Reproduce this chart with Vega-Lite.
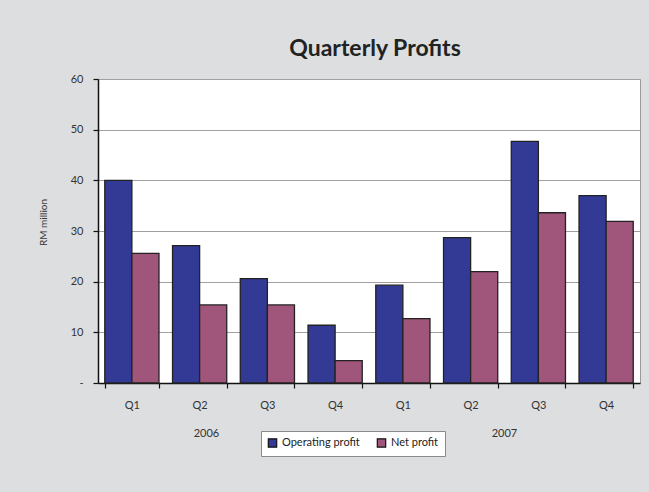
{
  "$schema": "https://vega.github.io/schema/vega-lite/v6.json",
  "autosize": {"type": "none"},
  "width": 542,
  "height": 304,
  "padding": {"left": 98, "top": 79, "right": 9, "bottom": 109},
  "background": "#dddee0",
  "title": {"text": "Quarterly Profits", "fontSize": 23, "fontWeight": "bold", "font": "Lato", "color": "#222222", "offset": 12, "anchor": "middle", "dx": 6},
  "config": {
    "view": {"stroke": "#9a9a9a", "strokeWidth": 1, "fill": "white"},
    "font": "Lato"
  },
  "data": {
    "values": [
      {"period": "2006 Q1", "year": "2006", "series": "Operating profit", "value": 40.0},
      {"period": "2006 Q1", "year": "2006", "series": "Net profit", "value": 25.6},
      {"period": "2006 Q2", "year": "2006", "series": "Operating profit", "value": 27.1},
      {"period": "2006 Q2", "year": "2006", "series": "Net profit", "value": 15.4},
      {"period": "2006 Q3", "year": "2006", "series": "Operating profit", "value": 20.6},
      {"period": "2006 Q3", "year": "2006", "series": "Net profit", "value": 15.4},
      {"period": "2006 Q4", "year": "2006", "series": "Operating profit", "value": 11.4},
      {"period": "2006 Q4", "year": "2006", "series": "Net profit", "value": 4.4},
      {"period": "2007 Q1", "year": "2007", "series": "Operating profit", "value": 19.3},
      {"period": "2007 Q1", "year": "2007", "series": "Net profit", "value": 12.7},
      {"period": "2007 Q2", "year": "2007", "series": "Operating profit", "value": 28.7},
      {"period": "2007 Q2", "year": "2007", "series": "Net profit", "value": 22.0},
      {"period": "2007 Q3", "year": "2007", "series": "Operating profit", "value": 47.7},
      {"period": "2007 Q3", "year": "2007", "series": "Net profit", "value": 33.6},
      {"period": "2007 Q4", "year": "2007", "series": "Operating profit", "value": 37.0},
      {"period": "2007 Q4", "year": "2007", "series": "Net profit", "value": 31.9}
    ]
  },
  "layer": [
    {
      "mark": {"type": "bar", "stroke": "#222222", "strokeWidth": 1.3},
      "encoding": {
        "x": {
          "field": "period", "type": "nominal",
          "scale": {"paddingInner": 0.2, "paddingOuter": 0.1},
          "axis": {
            "orient": "bottom",
            "title": null, "labelAngle": 0, "labelExpr": "substring(datum.label, 5)",
            "tickBand": "extent", "tickSize": 5, "tickColor": "#111111", "tickWidth": 1.2,
            "domainColor": "#111111", "domainWidth": 1.5,
            "labelFontSize": 11, "labelColor": "#333333", "labelPadding": 11, "grid": false
          }
        },
        "xOffset": {"field": "series", "type": "nominal", "sort": ["Operating profit", "Net profit"]},
        "y": {
          "field": "value", "type": "quantitative",
          "scale": {"domain": [0, 60], "nice": false},
          "axis": {
            "values": [0, 10, 20, 30, 40, 50, 60],
            "labelExpr": "datum.value == 0 ? '-' : datum.label",
            "title": "RM million", "titleFontSize": 10, "titleFontWeight": "normal", "titleColor": "#333333",
            "titleX": -55, "titleY": 143, "titleAngle": -90, "titleAlign": "center", "titleBaseline": "middle",
            "labelFontSize": 11, "labelColor": "#333333", "labelPadding": 10,
            "tickSize": 5, "tickColor": "#111111", "tickWidth": 1.2,
            "domainColor": "#111111", "domainWidth": 1.5,
            "grid": true, "gridColor": "#a0a0a0", "gridWidth": 1
          }
        },
        "color": {
          "field": "series", "type": "nominal",
          "scale": {"domain": ["Operating profit", "Net profit"], "range": ["#333a95", "#a0557a"]},
          "legend": {
            "title": null, "orient": "none", "direction": "horizontal",
            "legendX": 163, "legendY": 352,
            "fillColor": "white", "strokeColor": "#8a8a8a", "padding": 6,
            "symbolType": "square", "symbolSize": 70, "symbolStrokeColor": "#111111", "symbolStrokeWidth": 1.2,
            "labelFontSize": 11, "labelColor": "#222222", "columnPadding": 14, "labelOffset": 4
          }
        }
      }
    },
    {
      "mark": {"type": "tick", "opacity": 0},
      "encoding": {
        "x": {
          "field": "year", "type": "nominal",
          "scale": {"paddingInner": 0, "paddingOuter": 0},
          "axis": {
            "orient": "bottom",
            "title": null, "labelAngle": 0, "domain": false, "ticks": false, "grid": false,
            "labelFontSize": 11, "labelColor": "#333333", "labelPadding": 44,
            "labelOffset": {"condition": {"test": "datum.label == '2006'", "value": -27}, "value": 0}
          }
        },
        "y": {"datum": 0, "type": "quantitative"}
      }
    }
  ],
  "resolve": {"scale": {"x": "independent"}, "axis": {"x": "independent"}}
}
